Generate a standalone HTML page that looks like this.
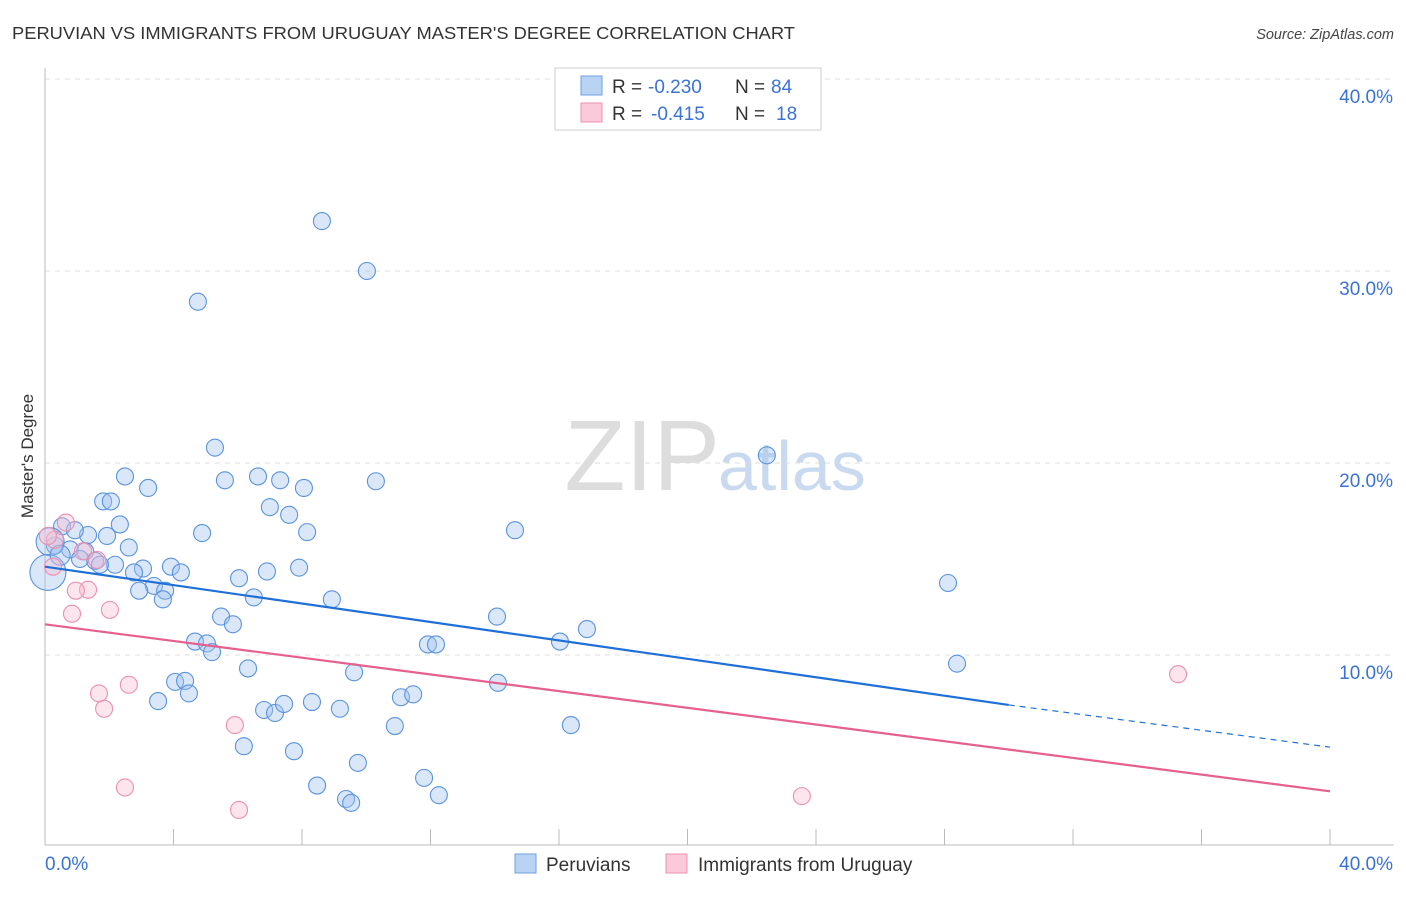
<!DOCTYPE html>
<html><head><meta charset="utf-8">
<style>
body{margin:0;background:#fff;font-family:"Liberation Sans",sans-serif;}
svg text{font-family:"Liberation Sans",sans-serif;}
</style></head>
<body>
<svg id="chart" width="1406" height="892" xmlns="http://www.w3.org/2000/svg">
<text x="12" y="39" font-size="17.5" fill="#333" textLength="783" lengthAdjust="spacingAndGlyphs">PERUVIAN VS IMMIGRANTS FROM URUGUAY MASTER'S DEGREE CORRELATION CHART</text>
<text x="1394" y="39" font-size="14.5" fill="#444" text-anchor="end" font-style="italic">Source: ZipAtlas.com</text>
<text x="720" y="490" font-size="100" fill="#ddd" text-anchor="end" font-family="Liberation Serif">ZIP</text>
<text x="718" y="490" font-size="70" fill="#c9daf0">atlas</text>
<g id="grid"></g>
<g id="axes"></g>
<g id="marks"></g>
<text transform="translate(33,456) rotate(-90)" font-size="17" fill="#333" text-anchor="middle">Master's Degree</text>
<g>
<rect x="555" y="68" width="266" height="62" fill="#fff" stroke="#ccc"/>
<rect x="581" y="76" width="21" height="19" fill="#b9d3f5" stroke="#6fa0e0"/>
<text x="612" y="93" font-size="19" fill="#333">R =</text>
<text x="648" y="93" font-size="19" fill="#3a72d8">-0.230</text>
<text x="735" y="93" font-size="19" fill="#333">N =</text>
<text x="771" y="93" font-size="19" fill="#3a72d8">84</text>
<rect x="581" y="103" width="21" height="19" fill="#fbcada" stroke="#ee90b0"/>
<text x="612" y="120" font-size="19" fill="#333">R =</text>
<text x="651" y="120" font-size="19" fill="#3a72d8">-0.415</text>
<text x="735" y="120" font-size="19" fill="#333">N =</text>
<text x="776" y="120" font-size="19" fill="#3a72d8">18</text>
</g>
<g>
<rect x="515" y="854" width="21" height="19" fill="#b9d3f5" stroke="#6fa0e0"/>
<text x="546" y="871" font-size="19" fill="#333">Peruvians</text>
<rect x="666" y="854" width="21" height="19" fill="#fbcada" stroke="#ee90b0"/>
<text x="698" y="871" font-size="19" fill="#333">Immigrants from Uruguay</text>
</g>
</svg>
<script>
const xTicks=[0,4,8,12,16,20,24,28,32,36,40];
const yTicks=[10,20,30,40];
const yTickLabels=["10.0%","20.0%","30.0%","40.0%"];
const peruX=[8.62,10.02,4.76,5.29,22.47,2.49,5.6,6.63,7.32,10.3,3.21,8.06,1.81,2.05,7.0,7.6,2.33,14.63,4.89,8.16,0.53,1.34,1.93,0.93,2.61,0.31,0.78,1.25,1.56,1.09,2.18,3.05,3.92,4.23,2.77,6.04,6.91,7.91,28.11,3.39,2.93,3.74,3.67,6.5,8.93,14.07,5.48,5.85,16.87,4.67,5.04,5.2,16.03,11.92,12.17,28.39,6.32,9.62,4.05,4.36,4.48,14.1,11.08,11.46,3.52,8.31,6.82,7.16,7.44,9.18,10.89,16.37,6.19,7.75,9.74,8.47,11.8,9.37,9.53,12.26,0.16,0.09,0.47,1.71];
const peruY=[32.6,30.0,28.4,20.8,20.4,19.3,19.1,19.3,19.1,19.05,18.7,18.7,18.0,18.0,17.7,17.3,16.8,16.5,16.35,16.4,16.7,16.25,16.2,16.5,15.6,15.7,15.5,15.4,14.9,15.0,14.7,14.5,14.6,14.3,14.3,14.0,14.35,14.55,13.75,13.6,13.35,13.35,12.9,13.0,12.9,12.0,12.0,11.6,11.35,10.7,10.6,10.15,10.7,10.55,10.55,9.55,9.3,9.1,8.6,8.65,8.0,8.55,7.8,7.95,7.6,7.55,7.135,6.98,7.45,7.2,6.3,6.35,5.25,4.99,4.38,3.2,3.6,2.5,2.3,2.7,15.9,14.3,15.2,14.7];
const peruR=[8.5,8.5,8.5,8.5,8.5,8.5,8.5,8.5,8.5,8.5,8.5,8.5,8.5,8.5,8.5,8.5,8.5,8.5,8.5,8.5,8.5,8.5,8.5,8.5,8.5,8.5,8.5,8.5,8.5,8.5,8.5,8.5,8.5,8.5,8.5,8.5,8.5,8.5,8.5,8.5,8.5,8.5,8.5,8.5,8.5,8.5,8.5,8.5,8.5,8.5,8.5,8.5,8.5,8.5,8.5,8.5,8.5,8.5,8.5,8.5,8.5,8.5,8.5,8.5,8.5,8.5,8.5,8.5,8.5,8.5,8.5,8.5,8.5,8.5,8.5,8.5,8.5,8.5,8.5,8.5,14,18,10,8.5];
const uruX=[0.65,0.31,1.18,1.62,0.25,1.34,0.96,0.84,2.02,2.61,1.68,1.84,5.91,2.49,6.04,23.56,35.27,0.09];
const uruY=[16.9,16.0,15.4,14.95,14.6,13.4,13.35,12.15,12.35,8.45,8.0,7.2,6.35,3.1,1.93,2.65,9.0,16.2];
const trendBlue=[0,14.6,30,7.4,40,5.2];
const trendPink=[0,11.6,40,2.9];
const X0=45,X1=1330,Y0=847,PXY=19.2;
const sx=v=>X0+(X1-X0)*v/40, sy=v=>Y0-v*PXY;
const NS="http://www.w3.org/2000/svg";
function mk(t,a,p){const e=document.createElementNS(NS,t);for(const k in a)e.setAttribute(k,a[k]);p.appendChild(e);return e;}
const grid=document.getElementById('grid'),axes=document.getElementById('axes'),marks=document.getElementById('marks');
yTicks.forEach((v,i)=>{
 const l=mk('line',{x1:X0,x2:1394,y1:sy(v),y2:sy(v),stroke:'#ddd','stroke-dasharray':'5,5'},grid);
 
 
 const t=mk('text',{x:1393,y:sy(v)+24,'font-size':19,fill:'#3a72d8','text-anchor':'end'},axes);
 t.textContent=yTickLabels[i];
 
 
});
const ya=mk('line',{x1:X0,x2:X0,y1:68,y2:845,stroke:'#bbb'},axes);


const xa=mk('line',{x1:X0,x2:1394,y1:845,y2:845,stroke:'#bbb'},axes);


xTicks.forEach(v=>{
 const t=mk('line',{x1:sx(v),x2:sx(v),y1:829,y2:845,stroke:'#bbb'},axes);
 
 
});
const xl0=mk('text',{x:45,y:870,'font-size':19,fill:'#3a72d8'},axes);xl0.textContent='0.0%';


const xl1=mk('text',{x:1393,y:870,'font-size':19,fill:'#3a72d8','text-anchor':'end'},axes);xl1.textContent='40.0%';


peruX.forEach((x,i)=>{
 const c=mk('circle',{cx:sx(x),cy:sy(peruY[i]),r:peruR[i],fill:'rgba(160,195,240,0.4)',stroke:'#5b93de','stroke-width':1.1},marks);
 
 
});
uruX.forEach((x,i)=>{
 const c=mk('circle',{cx:sx(x),cy:sy(uruY[i]),r:8.5,fill:'rgba(250,190,210,0.4)',stroke:'#ec8fb0','stroke-width':1.1},marks);
 
 
});
const tb=mk('line',{x1:sx(trendBlue[0]),y1:sy(trendBlue[1]),x2:sx(trendBlue[2]),y2:sy(trendBlue[3]),stroke:'#1f6fd8','stroke-width':2.2},marks);


const tbd=mk('line',{x1:sx(trendBlue[2]),y1:sy(trendBlue[3]),x2:sx(trendBlue[4]),y2:sy(trendBlue[5]),stroke:'#1f6fd8','stroke-width':1.2,'stroke-dasharray':'6,5'},marks);


const tp=mk('line',{x1:sx(trendPink[0]),y1:sy(trendPink[1]),x2:sx(trendPink[2]),y2:sy(trendPink[3]),stroke:'#e6608e','stroke-width':2.2},marks);


</script>
</body></html>
